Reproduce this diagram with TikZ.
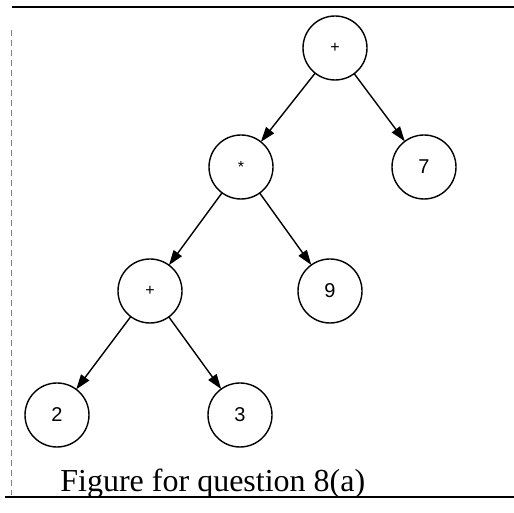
\documentclass[tikz,border=0pt]{standalone}
\usepackage{fontspec}
\setmainfont{Liberation Serif}
\newfontfamily\labelfont{Liberation Sans}
\usetikzlibrary{arrows.meta}

\begin{document}
\begin{tikzpicture}[
    x=0.5pt, y=0.5pt,
    >={Triangle[length=7.5pt, width=5pt]},
    tree node/.style={circle, draw=black, line width=0.7pt, inner sep=0pt, outer sep=0pt,
                      minimum size=32pt, font=\labelfont\fontsize{10}{12}\selectfont},
    tree edge/.style={->, line width=0.7pt},
    rule line/.style={line width=0.9pt},
]
\useasboundingbox (0,0) rectangle (514,513);

% Frame lines
\draw[rule line] (12,506) -- (514,506);
\draw[rule line] (5,16) -- (514,16);
\draw[densely dashed, line width=0.4pt, gray] (11,483) -- (11,18);

% Nodes
\node[tree node] (root)  at (335,465) {\fontsize{8}{10}\selectfont +};
\node[tree node] (mul)   at (241,346) {\fontsize{8}{10}\selectfont *};
\node[tree node] (seven) at (424,346) {7};
\node[tree node] (plus)  at (150,222) {\fontsize{8}{10}\selectfont +};
\node[tree node] (nine)  at (330,222) {9};
\node[tree node] (two)   at (57,98)   {2};
\node[tree node] (three) at (240,98)  {3};

% Edges
\draw[tree edge] (root) -- (mul);
\draw[tree edge] (root) -- (seven);
\draw[tree edge] (mul) -- (plus);
\draw[tree edge] (mul) -- (nine);
\draw[tree edge] (plus) -- (two);
\draw[tree edge] (plus) -- (three);

% Caption
\node[anchor=base west, inner sep=0pt, font=\fontsize{16}{19}\selectfont] (caption)
    at (60,21) {Figure for question 8(a)};

\end{tikzpicture}
\end{document}
